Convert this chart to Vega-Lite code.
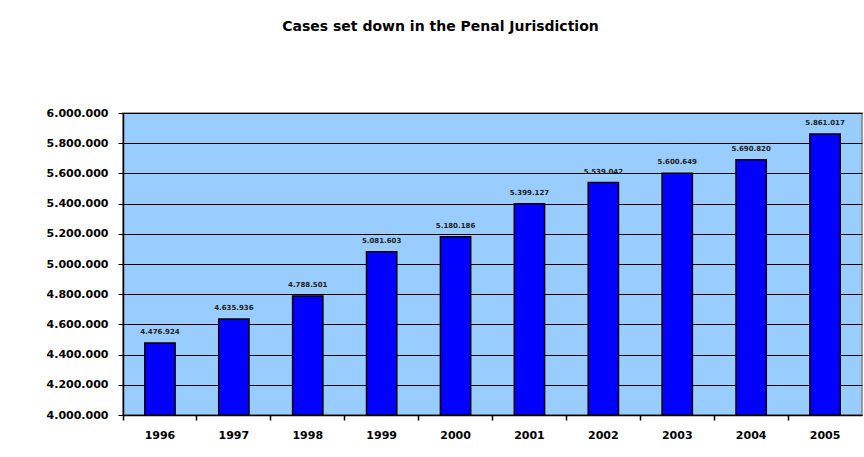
{
  "$schema": "https://vega.github.io/schema/vega-lite/v6.json",
  "width": 739,
  "height": 302,
  "autosize": "none",
  "padding": {"left": 123, "top": 113, "right": 2, "bottom": 42},
  "background": "white",
  "config": {
    "locale": {"number": {"decimal": ",", "thousands": ".", "grouping": [3], "currency": ["", ""]}},
    "view": {"fill": "#99CCFF", "stroke": "#808080", "strokeWidth": 1.5},
    "font": "DejaVu Sans"
  },
  "title": {
    "text": "Cases set down in the Penal Jurisdiction",
    "font": "DejaVu Sans",
    "fontSize": 14,
    "fontWeight": "bold",
    "color": "#000000",
    "anchor": "middle",
    "frame": "group",
    "dx": -52,
    "baseline": "alphabetic",
    "offset": 62
  },
  "data": {
    "values": [
      {"year": "1996", "cases": 4476924},
      {"year": "1997", "cases": 4635936},
      {"year": "1998", "cases": 4788501},
      {"year": "1999", "cases": 5081603},
      {"year": "2000", "cases": 5180186},
      {"year": "2001", "cases": 5399127},
      {"year": "2002", "cases": 5539042},
      {"year": "2003", "cases": 5600649},
      {"year": "2004", "cases": 5690820},
      {"year": "2005", "cases": 5861017}
    ]
  },
  "encoding": {
    "x": {
      "field": "year",
      "type": "ordinal",
      "scale": {"paddingInner": 0, "paddingOuter": 0},
      "axis": {
        "title": null,
        "labelAngle": 0,
        "labelFont": "DejaVu Sans",
        "labelFontSize": 11,
        "labelFontWeight": "bold",
        "labelColor": "#000000",
        "labelPadding": 9,
        "bandPosition": 0,
        "tickSize": 5,
        "tickColor": "#000000",
        "tickWidth": 1.5,
        "domainColor": "#000000",
        "domainWidth": 1.5,
        "grid": false
      }
    },
    "y": {
      "field": "cases",
      "type": "quantitative",
      "scale": {"domain": [4000000, 6000000], "nice": false, "zero": false},
      "axis": {
        "title": null,
        "values": [4000000, 4200000, 4400000, 4600000, 4800000, 5000000, 5200000, 5400000, 5600000, 5800000, 6000000],
        "format": ",d",
        "labelFont": "DejaVu Sans",
        "labelFontSize": 11,
        "labelFontWeight": "bold",
        "labelColor": "#000000",
        "labelPadding": 10,
        "tickSize": 5,
        "tickColor": "#000000",
        "domainColor": "#000000",
        "domainWidth": 1.5,
        "grid": true,
        "gridColor": "#000000",
        "gridWidth": 1,
        "gridOpacity": 1
      }
    }
  },
  "layer": [
    {
      "mark": {"type": "bar", "width": {"band": 0.41}, "fill": "#0000FF", "stroke": "#000000", "strokeWidth": 1.5},
      "encoding": {
        "y2": {"datum": 4000000}
      }
    },
    {
      "mark": {"type": "text", "dy": -9, "baseline": "alphabetic", "fontSize": 7, "fontWeight": "bold", "font": "DejaVu Sans", "color": "#222222"},
      "encoding": {
        "text": {"field": "cases", "type": "quantitative", "format": ",d"}
      }
    }
  ]
}
